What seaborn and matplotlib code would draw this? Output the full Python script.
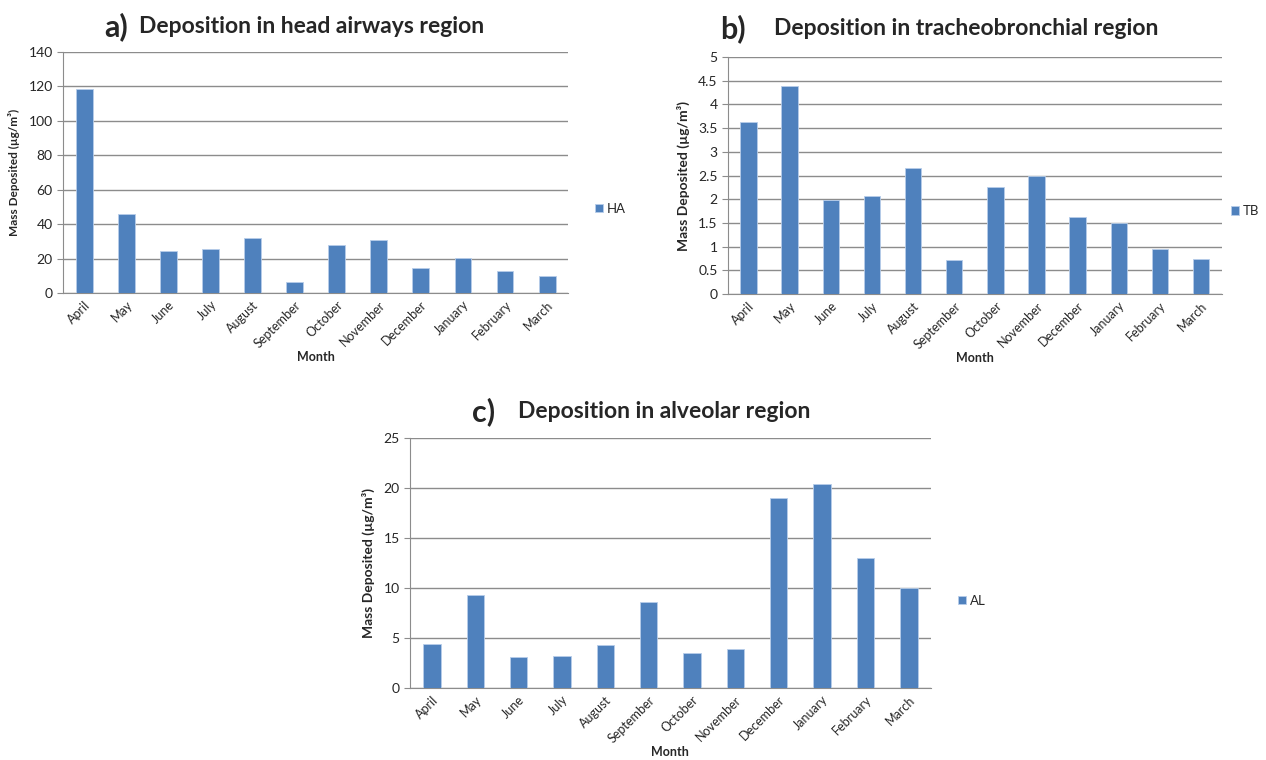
import numpy as np
import pandas as pd
import seaborn as sns
import matplotlib.pyplot as plt
from matplotlib.ticker import MultipleLocator, FuncFormatter

# valores
months = ["April", "May", "June", "July", "August", "September", "October",
          "November", "December", "January", "February", "March"]
ha = [118.5, 46, 24.5, 25.5, 32, 6.5, 28, 31, 14.5, 20.5, 13, 10]
tb = [3.62, 4.38, 1.98, 2.06, 2.65, 0.73, 2.25, 2.50, 1.62, 1.51, 0.96, 0.75]
al = [4.4, 9.3, 3.1, 3.2, 4.35, 8.65, 3.55, 3.95, 19.0, 20.4, 13.0, 10.0]

sns.set_style("white")
plt.rcParams["font.family"] = ["Lato", "DejaVu Sans"]

blue = "#4F81BD"
grid = "#8C8C8C"

fig = plt.figure(figsize=(12.66, 7.6), dpi=100)


def painel(rect, vals, serie, ymax, step, letra, titulo, lx, tx, ty,
           ylab_size=10, leg_x=1.03):
    ax = fig.add_axes(rect)
    df = pd.DataFrame({"Month": months, "Mass": vals, "Region": serie})
    sns.barplot(data=df, x="Month", y="Mass", hue="Region", palette=[blue],
                saturation=1, width=0.4, ax=ax, edgecolor="#B7CDE9",
                linewidth=0.6, zorder=3)
    ax.set_ylim(0, ymax)
    ax.set_xlim(-0.5, 11.5)
    ax.yaxis.set_major_locator(MultipleLocator(step))
    ax.yaxis.set_major_formatter(FuncFormatter(lambda v, p: f"{v:g}"))
    ax.yaxis.grid(True, color=grid, linewidth=1, zorder=0)
    for s in ["top", "right"]:
        ax.spines[s].set_visible(False)
    for s in ["left", "bottom"]:
        ax.spines[s].set_color(grid)
    ax.set_xticks(np.arange(-0.5, 12, 1), minor=True)
    ax.tick_params(axis="x", which="major", length=0, labelsize=9, rotation=45, pad=4)
    ax.tick_params(axis="x", which="minor", length=4, color=grid)
    ax.tick_params(axis="y", length=4, color=grid, labelsize=10, left=True)
    for t in ax.get_xticklabels():
        t.set_ha("right")
        t.set_rotation_mode("anchor")
    ax.set_xlabel("Month", fontsize=9, fontweight="bold", labelpad=1)
    ax.set_ylabel("Mass Deposited (µg/m³)", fontsize=ylab_size, fontweight="bold",
                  labelpad=6)
    sns.move_legend(ax, "center left", bbox_to_anchor=(leg_x, 0.35), frameon=False,
                    title=None, fontsize=9.5, handlelength=0.6, handleheight=0.6,
                    handletextpad=0.3)
    fig.text(lx, ty, letra, fontsize=22, fontweight="bold", va="center", ha="left")
    fig.text(tx, ty, titulo, fontsize=16.5, fontweight="bold", va="center", ha="left")
    return ax


painel([0.0498, 0.6145, 0.399, 0.317], ha, "HA", 140, 20, "a)",
       "Deposition in head airways region", 0.082, 0.110, 0.965, ylab_size=8.5)
painel([0.575, 0.613, 0.390, 0.312], tb, "TB", 5, 0.5, "b)",
       "Deposition in tracheobronchial region", 0.569, 0.611, 0.962, leg_x=0.995)
painel([0.324, 0.0947, 0.411, 0.329], al, "AL", 25, 5, "c)",
       "Deposition in alveolar region", 0.373, 0.409, 0.458)

plt.savefig("out.png", dpi=100)
